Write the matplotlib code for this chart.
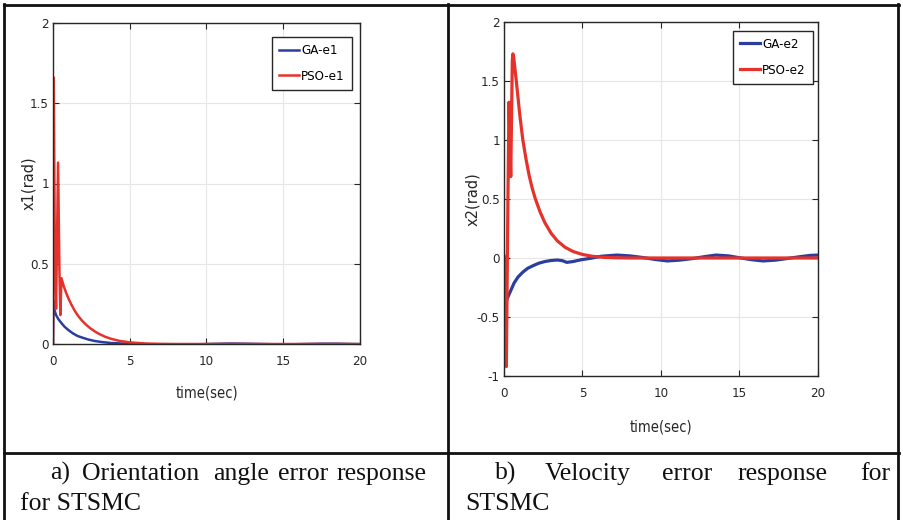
import matplotlib
matplotlib.use("Agg")
import matplotlib.pyplot as plt
from matplotlib import font_manager

# ---------------- data ----------------
t_ga1 = [0, 0.03, 0.1, 0.2, 0.35, 0.55, 0.75, 1.0, 1.3, 1.6, 1.9, 2.3, 2.7, 3.2, 3.8, 4.5,
         5.5, 6.5, 7.5, 8.5, 9.5, 10.5, 11.5, 12.5, 13.5, 14.5, 15.5, 16.5, 17.5, 18.5, 19.5, 20]
ga_e1 = [0, 0.27, 0.21, 0.18, 0.155, 0.13, 0.108, 0.087, 0.066, 0.05, 0.04, 0.028, 0.019, 0.012,
         0.006, 0.003, 0.0, -0.002, -0.004, -0.004, -0.002, 0.001, 0.003, 0.002, 0.0, -0.002,
         -0.002, 0.0, 0.002, 0.002, 0.0, -0.001]

t_pso1 = [0, 0.05, 0.12, 0.2, 0.33, 0.42, 0.48, 0.55, 0.7, 0.85, 1.0, 1.2, 1.4, 1.6, 1.85, 2.1,
          2.4, 2.7, 3.0, 3.4, 3.8, 4.3, 5.0, 6.0, 7.0, 8.0, 10.0, 12.0, 14.0, 16.0, 18.0, 20.0]
pso_e1 = [0, 1.66, 0.55, 0.22, 1.13, 0.45, 0.18, 0.41, 0.36, 0.32, 0.285, 0.245, 0.21, 0.18,
          0.15, 0.125, 0.1, 0.08, 0.063, 0.045, 0.032, 0.02, 0.01, 0.003, 0.001, 0.0, 0.0,
          0.0, 0.0, 0.0, 0.0, 0.0]

t_ga2 = [0, 0.1, 0.25, 0.45, 0.65, 0.9, 1.2, 1.5, 1.85, 2.2, 2.6, 3.0, 3.4, 3.7, 4.0, 4.4, 4.9,
         5.5, 6.2, 7.2, 8.0, 8.8, 9.6, 10.4, 11.2, 12.0, 12.8, 13.5, 14.3, 15.1, 15.8, 16.5,
         17.3, 18.1, 18.9, 19.5, 20]
ga_e2 = [-0.43, -0.38, -0.33, -0.27, -0.21, -0.16, -0.12, -0.088, -0.065, -0.045, -0.03, -0.021,
         -0.017, -0.022, -0.037, -0.03, -0.015, -0.003, 0.015, 0.025, 0.018, 0.005, -0.012,
         -0.025, -0.018, -0.005, 0.012, 0.025, 0.018, 0.0, -0.015, -0.025, -0.018, -0.003,
         0.012, 0.022, 0.025]

t_pso2 = [0, 0.05, 0.15, 0.25, 0.32, 0.43, 0.53, 0.57, 0.62, 0.7, 0.8, 0.9, 1.0, 1.1, 1.2, 1.4,
          1.6, 1.8, 2.0, 2.3, 2.6, 3.0, 3.4, 3.9, 4.4, 5.0, 5.6, 6.3, 7.0, 8.0, 10.0, 12.0,
          14.0, 16.0, 18.0, 20.0]
pso_e2 = [0.02, 0.0, -0.92, 0.5, 1.32, 0.69, 1.68, 1.73, 1.70, 1.60, 1.48, 1.35, 1.22, 1.11,
          1.0, 0.84, 0.70, 0.59, 0.50, 0.39, 0.30, 0.21, 0.145, 0.09, 0.055, 0.03, 0.015,
          0.006, 0.002, 0.0, 0.0, 0.0, 0.0, 0.0, 0.0, 0.0]

x_ticks = [0, 5, 10, 15, 20]
x_tick_labels = ["0", "5", "10", "15", "20"]
y1_ticks = [0, 0.5, 1, 1.5, 2]
y1_tick_labels = ["0", "0.5", "1", "1.5", "2"]
y2_ticks = [-1, -0.5, 0, 0.5, 1, 1.5, 2]
y2_tick_labels = ["-1", "-0.5", "0", "0.5", "1", "1.5", "2"]

labels_a = ["GA-e1", "PSO-e1"]
labels_b = ["GA-e2", "PSO-e2"]

# ---------------- fonts ----------------
fl = font_manager.fontManager.ttflist
names = {f.name for f in fl}
if "Liberation Sans Narrow" in names:
    NARROW = dict(family="Liberation Sans Narrow", stretch="normal")
elif any(f.name == "DejaVu Sans" and f.stretch in ("condensed", "semi-condensed") for f in fl):
    NARROW = dict(family="DejaVu Sans", stretch="condensed")
else:
    NARROW = dict(family="Liberation Sans", stretch="normal")
SERIF = "Liberation Serif"

BLUE = "#2b3d9e"
RED = "#e5322a"
AXC = "#262626"

W, H = 904, 520
fig = plt.figure(figsize=(W / 100, H / 100), dpi=100)

# background axes for table lines and captions (pixel coords)
bg = fig.add_axes([0, 0, 1, 1])
bg.set_xlim(0, W)
bg.set_ylim(H, 0)
bg.axis("off")
lw_tab = 2.0
bg.plot([4, 899], [4.5, 4.5], color="#111111", lw=lw_tab)
bg.plot([4.5, 4.5], [4, 520], color="#111111", lw=lw_tab)
bg.plot([898.5, 898.5], [4, 520], color="#111111", lw=lw_tab)
bg.plot([448.5, 448.5], [4, 520], color="#111111", lw=lw_tab)
bg.plot([4, 899], [453, 453], color="#111111", lw=lw_tab)

cap_fs = 18.5
for word, x in [("a)", 50), ("Orientation", 82), ("angle", 213), ("error", 278), ("response", 337)]:
    bg.text(x, 480, word, fontsize=cap_fs, family=SERIF, va="baseline", ha="left", color="#111111")
bg.text(20, 510, "for STSMC", fontsize=cap_fs, family=SERIF, va="baseline", ha="left", color="#111111")
for word, x in [("b)", 495), ("Velocity", 545), ("error", 662), ("response", 738), ("for", 860)]:
    bg.text(x, 480, word, fontsize=cap_fs, family=SERIF, va="baseline", ha="left", color="#111111")
bg.text(465, 510, "STSMC", fontsize=cap_fs, family=SERIF, va="baseline", ha="left", color="#111111")


def make_axes(px_left, px_right, px_top, px_bottom):
    return fig.add_axes([px_left / W, 1 - px_bottom / H,
                         (px_right - px_left) / W, (px_bottom - px_top) / H])


def style(ax, yticks, ylabels, ylim, ylabel, ylab_x, xlab_y):
    ax.set_xlim(0, 20)
    ax.set_ylim(*ylim)
    ax.set_xticks(x_ticks)
    ax.set_xticklabels(x_tick_labels, fontsize=9.5, color=AXC, **NARROW)
    ax.set_yticks(yticks)
    ax.set_yticklabels(ylabels, fontsize=9.5, color=AXC, **NARROW)
    ax.tick_params(direction="in", length=4, width=0.8, color=AXC, top=True, right=True)
    ax.tick_params(axis="x", pad=8)
    ax.tick_params(axis="y", pad=3)
    ax.grid(True, color="#e6e6e6", lw=0.8)
    ax.set_axisbelow(True)
    for s in ax.spines.values():
        s.set_color(AXC)
        s.set_linewidth(1.0)
    ax.set_xlabel("time(sec)", fontsize=10.5, color=AXC, va="center", **NARROW)
    ax.xaxis.set_label_coords(0.5, xlab_y)
    ax.set_ylabel(ylabel, family="DejaVu Sans", fontsize=10.5, color=AXC, va="center")
    ax.yaxis.set_label_coords(ylab_x, 0.5)


def add_legend(ax, anchor):
    leg = ax.legend(loc="upper right", bbox_to_anchor=anchor, borderaxespad=0,
                    prop=dict(size=9.5, **NARROW), frameon=True, fancybox=False,
                    handlelength=1.5, handletextpad=0.15, labelspacing=0.95, borderpad=0.55)
    leg.get_frame().set_edgecolor(AXC)
    leg.get_frame().set_linewidth(1.0)
    leg.get_frame().set_alpha(1)


# ---- panel a ----
axa = make_axes(53, 360, 23, 344)
style(axa, y1_ticks, y1_tick_labels, (0, 2), "x1(rad)", -0.08, -0.153)
axa.plot(t_ga1, ga_e1, color=BLUE, lw=1.8, label=labels_a[0])
axa.plot(t_pso1, pso_e1, color=RED, lw=1.8, label=labels_a[1])
add_legend(axa, (0.974, 0.956))

# ---- panel b ----
axb = make_axes(504, 818, 22, 376)
style(axb, y2_ticks, y2_tick_labels, (-1, 2), "x2(rad)", -0.1, -0.144)
axb.plot(t_ga2, ga_e2, color=BLUE, lw=2.3, label=labels_b[0])
axb.plot(t_pso2, pso_e2, color=RED, lw=2.3, label=labels_b[1])
add_legend(axb, (0.984, 0.975))

fig.savefig("out.png", dpi=100)
